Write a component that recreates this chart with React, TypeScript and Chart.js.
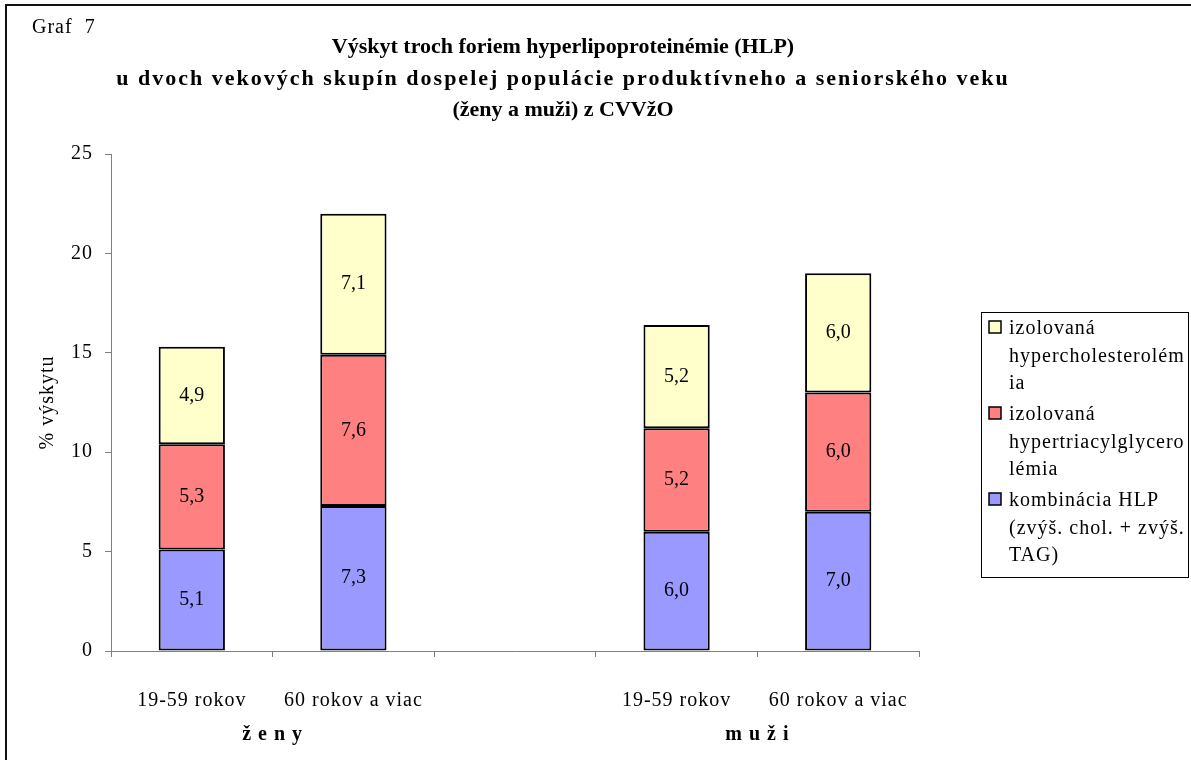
import React, { useEffect, useRef } from 'react';
import { Chart, registerables } from 'chart.js';

Chart.register(...registerables);

// ---- data ----
const categories = ['19-59 rokov', '60 rokov a viac', '', '19-59 rokov', '60 rokov a viac'];
const groupLabels = ['ž e n y', 'm u ž i'];
const groupFirstIndex = [0, 3];
const groupLastIndex = [1, 4];

const kombinacia = [5.1, 7.3, null, 6.0, 7.0];
const hypertriacyl = [5.3, 7.6, null, 5.2, 6.0];
const hypercholesterol = [4.9, 7.1, null, 5.2, 6.0];

const seriesNames = [
  'kombinácia HLP (zvýš. chol. + zvýš. TAG)',
  'izolovaná hypertriacylglycerolémia',
  'izolovaná hypercholesterolémia',
];
const seriesColors = ['#9999FF', '#FF8080', '#FFFFCC'];
// legend lines (as wrapped in the original), top item first
const legendLines = [
  ['izolovaná', 'hypercholesterolém', 'ia'],
  ['izolovaná', 'hypertriacylglycero', 'lémia'],
  ['kombinácia HLP', '(zvýš. chol. + zvýš.', 'TAG)'],
];

const yMin = 0;
const yMax = 25;
const yStep = 5;

const graphNumber = 'Graf  7';
const titleLines = [
  'Výskyt troch foriem hyperlipoproteinémie (HLP)',
  'u dvoch vekových skupín dospelej populácie produktívneho a seniorského veku',
  '(ženy a muži) z CVVžO',
];
const titleSpacing = ['0px', '2px', '0px'];
const yAxisTitle = '% výskytu';

const FONT = '"Liberation Serif", "Times New Roman", serif';

const decorPlugin = {
  id: 'decor',
  beforeDraw(chart: any) {
    const ctx = chart.ctx;
    ctx.save();
    ctx.fillStyle = '#ffffff';
    ctx.fillRect(0, 0, chart.width, chart.height);
    ctx.restore();
    (ctx as any).letterSpacing = '1px';
  },
  afterDatasetsDraw(chart: any) {
    const ctx = chart.ctx;
    ctx.save();
    (ctx as any).letterSpacing = '0px';
    ctx.font = `20px ${FONT}`;
    ctx.fillStyle = '#000';
    ctx.textAlign = 'center';
    ctx.textBaseline = 'middle';
    chart.data.datasets.forEach((ds: any, di: number) => {
      const meta = chart.getDatasetMeta(di);
      meta.data.forEach((el: any, i: number) => {
        const v = ds.data[i];
        if (v === null || v === undefined) return;
        const txt = Number(v).toFixed(1).replace('.', ',');
        ctx.fillText(txt, el.x, (el.y + el.base) / 2);
      });
    });
    ctx.restore();
  },
  afterDraw(chart: any) {
    const ctx = chart.ctx;
    const xs = chart.scales.x;
    const area = chart.chartArea;
    ctx.save();
    ctx.fillStyle = '#000';

    // Graf 7
    (ctx as any).letterSpacing = '1px';
    ctx.font = `20px ${FONT}`;
    ctx.textAlign = 'left';
    ctx.textBaseline = 'alphabetic';
    ctx.fillText(graphNumber, 32, 33);

    // Title
    ctx.font = `bold 22px ${FONT}`;
    ctx.textAlign = 'center';
    const tb = [53, 85, 116];
    titleLines.forEach((t, i) => {
      (ctx as any).letterSpacing = titleSpacing[i];
      ctx.fillText(t, 563, tb[i]);
    });

    // Y axis title
    (ctx as any).letterSpacing = '1px';
    ctx.font = `20px ${FONT}`;
    ctx.save();
    ctx.translate(48, (area.top + area.bottom) / 2);
    ctx.rotate(-Math.PI / 2);
    ctx.textAlign = 'center';
    ctx.textBaseline = 'middle';
    ctx.fillText(yAxisTitle, 0, 0);
    ctx.restore();

    // Group labels
    ctx.font = `bold 20px ${FONT}`;
    ctx.textAlign = 'center';
    ctx.textBaseline = 'alphabetic';
    groupLabels.forEach((g, i) => {
      const cx = (xs.getPixelForValue(groupFirstIndex[i]) + xs.getPixelForValue(groupLastIndex[i])) / 2;
      ctx.fillText(g, cx, 740);
    });

    // Legend
    const lx = 981, ly = 312, lw = 207, lh = 265;
    ctx.lineWidth = 1;
    ctx.strokeStyle = '#000';
    ctx.strokeRect(lx + 0.5, ly + 0.5, lw, lh);
    ctx.font = `20px ${FONT}`;
    ctx.textAlign = 'left';
    const itemStarts = [334, 420, 506];
    const order = [2, 1, 0];
    order.forEach((dsIndex, k) => {
      const base = itemStarts[k];
      ctx.fillStyle = seriesColors[dsIndex];
      ctx.fillRect(989, base - 13, 12, 12);
      ctx.strokeStyle = '#000';
      ctx.lineWidth = 1.5;
      ctx.strokeRect(989, base - 13, 12, 12);
      ctx.fillStyle = '#000';
      legendLines[k].forEach((line, j) => {
        ctx.fillText(line, 1009, base + j * 27.5);
      });
    });

    // Outer border (left & top visible)
    ctx.strokeStyle = '#111';
    ctx.lineWidth = 2;
    ctx.beginPath();
    ctx.moveTo(6, chart.height);
    ctx.lineTo(6, 5);
    ctx.lineTo(chart.width, 5);
    ctx.stroke();
    ctx.restore();
  },
};

export default function App() {
  const canvasRef = useRef<HTMLCanvasElement | null>(null);

  useEffect(() => {
    if (!canvasRef.current) return;
    const tickFont = { family: FONT, size: 20 };
    const chart = new Chart(canvasRef.current, {
      type: 'bar',
      data: {
        labels: categories,
        datasets: [
          { label: seriesNames[0], data: kombinacia, backgroundColor: seriesColors[0] },
          { label: seriesNames[1], data: hypertriacyl, backgroundColor: seriesColors[1] },
          { label: seriesNames[2], data: hypercholesterol, backgroundColor: seriesColors[2] },
        ].map((d) => ({
          ...d,
          borderColor: '#000',
          borderWidth: 2,
          borderSkipped: false,
          categoryPercentage: 1,
          barPercentage: 0.41,
        })),
      },
      options: {
        responsive: false,
        animation: false,
        events: [],
        layout: { padding: { left: 0, top: 154, right: 272, bottom: 0 } },
        plugins: {
          legend: { display: false },
          title: { display: false },
          tooltip: { enabled: false },
        },
        scales: {
          x: {
            stacked: true,
            grid: { offset: true, drawOnChartArea: false, drawTicks: true, tickLength: 6, color: '#808080' },
            border: { display: true, color: '#808080', width: 1 },
            ticks: { font: tickFont, color: '#000', padding: 32, maxRotation: 0, minRotation: 0, autoSkip: false },
            afterFit: (s: any) => {
              s.height = 109;
            },
          },
          y: {
            stacked: true,
            min: yMin,
            max: yMax,
            ticks: { stepSize: yStep, font: tickFont, color: '#000', padding: 12 },
            grid: { drawOnChartArea: false, drawTicks: true, tickLength: 6, color: '#808080' },
            border: { display: true, color: '#808080', width: 1 },
            afterFit: (s: any) => {
              s.width = 111;
            },
          },
        },
      } as any,
      plugins: [decorPlugin],
    });
    return () => chart.destroy();
  }, []);

  return (
    <div style={{ position: 'absolute', left: 0, top: 0, width: 1191, height: 760, background: '#fff' }}>
      <canvas ref={canvasRef} width={1191} height={760} />
    </div>
  );
}
